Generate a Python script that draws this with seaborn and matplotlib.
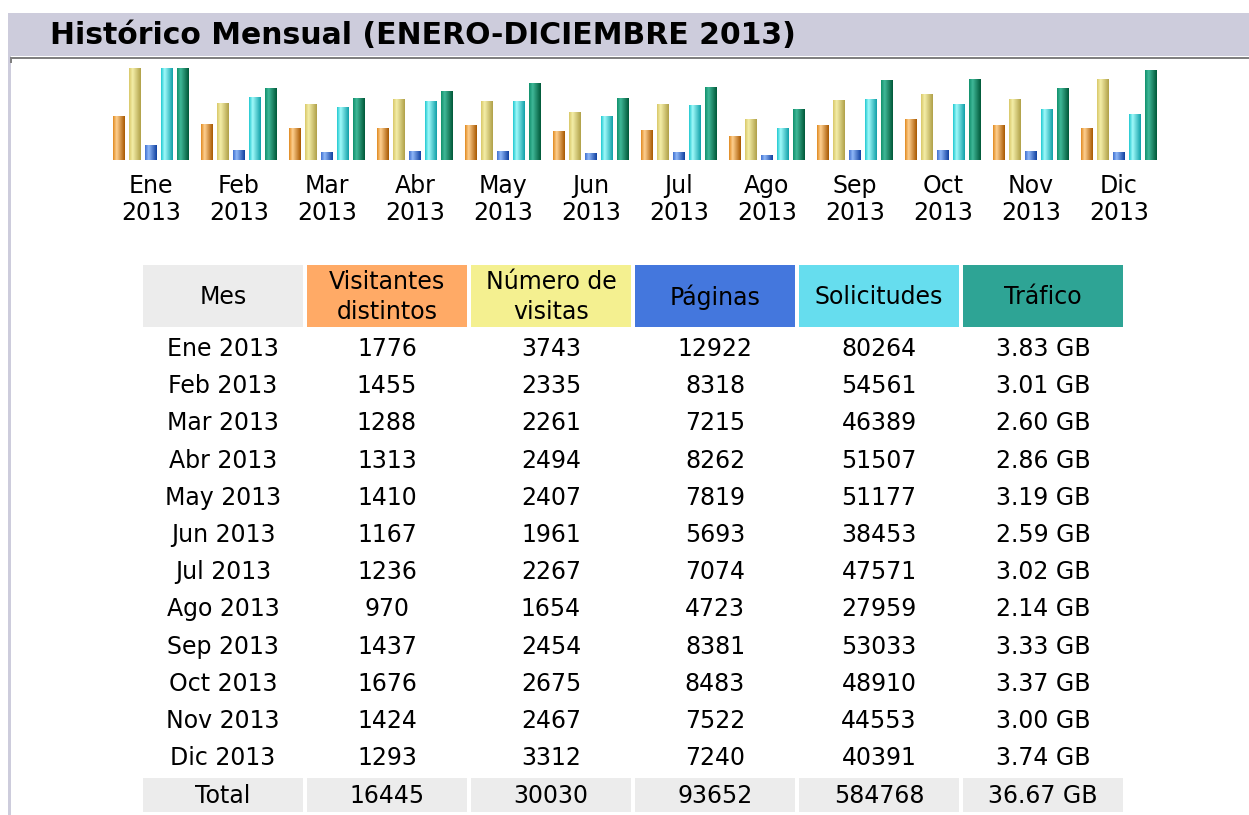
import numpy as np
import pandas as pd
import matplotlib
matplotlib.use("Agg")
import matplotlib.pyplot as plt
from matplotlib.colors import LinearSegmentedColormap
from matplotlib.patches import Rectangle
import seaborn as sns

# datos del historico mensual (awstats)
meses = ["Ene", "Feb", "Mar", "Abr", "May", "Jun", "Jul", "Ago", "Sep", "Oct", "Nov", "Dic"]
anio = "2013"
visitantes = [1776, 1455, 1288, 1313, 1410, 1167, 1236, 970, 1437, 1676, 1424, 1293]
visitas = [3743, 2335, 2261, 2494, 2407, 1961, 2267, 1654, 2454, 2675, 2467, 3312]
paginas = [12922, 8318, 7215, 8262, 7819, 5693, 7074, 4723, 8381, 8483, 7522, 7240]
solicitudes = [80264, 54561, 46389, 51507, 51177, 38453, 47571, 27959, 53033, 48910, 44553, 40391]
trafico_gb = [3.83, 3.01, 2.60, 2.86, 3.19, 2.59, 3.02, 2.14, 3.33, 3.37, 3.00, 3.74]
totales = ["16445", "30030", "93652", "584768", "36.67 GB"]

cabeceras = ["Mes", "Visitantes\ndistintos", "Número de\nvisitas", "Páginas", "Solicitudes", "Tráfico"]
col_cabecera = ["#ECECEC", "#FFAA66", "#F4F090", "#4477DD", "#66DDEE", "#2EA495"]
series = ["Visitantes", "Visitas", "Paginas", "Solicitudes", "Trafico"]

# colores de las barras: borde izq, brillo, borde der
grad = [("#E08A20", "#FFD090", "#A85800"),
        ("#D8C868", "#F4EEA8", "#B0A048"),
        ("#4070D0", "#90B8F8", "#1040A0"),
        ("#20C8D0", "#A0FAFA", "#10A0A8"),
        ("#10906C", "#40B898", "#005838")]

W, H = 1249, 815
sns.set_style("white")
plt.rcParams["font.family"] = ["DejaVu Sans"]
plt.rcParams["text.color"] = "black"
plt.rcParams["xtick.color"] = "black"
fig = plt.figure(figsize=(W / 100, H / 100), dpi=100)

# fondo en pixeles
bg = fig.add_axes([0, 0, 1, 1])
bg.set_xlim(0, W)
bg.set_ylim(H, 0)
bg.axis("off")
bg.add_patch(Rectangle((8, 13), W - 8, 43, color="#CDCCDC", lw=0))
bg.add_patch(Rectangle((8, 13), 3, H - 13, color="#CDCCDC", lw=0))
bg.add_patch(Rectangle((10, 57), W - 10, 2, color="#808080", lw=0))
bg.add_patch(Rectangle((10, 57), 2, 6, color="#808080", lw=0))
bg.text(50, 35, "Histórico Mensual (ENERO-DICIEMBRE 2013)", fontsize=21.5, fontweight="bold",
        va="center", ha="left", color="black")

# grafico de barras, escalado como awstats
max_v = max(visitas)
max_h = max(solicitudes)
max_t = max(trafico_gb)
alturas = {
    "Visitantes": [v / max_v for v in visitantes],
    "Visitas": [v / max_v for v in visitas],
    "Paginas": [v / max_h for v in paginas],
    "Solicitudes": [v / max_h for v in solicitudes],
    "Trafico": [v / max_t for v in trafico_gb],
}
df = pd.DataFrame([(m, s, alturas[s][i]) for s in series for i, m in enumerate(meses)],
                  columns=["mes", "serie", "altura"])

x0, x1 = 107, 1163
ytop, ybase = 68, 160
ax = fig.add_axes([x0 / W, 1 - ybase / H, (x1 - x0) / W, (ybase - ytop) / H])
sns.barplot(data=df, x="mes", y="altura", hue="serie", hue_order=series,
            palette=[g[0] for g in grad], width=0.909, gap=0.25, legend=False,
            linewidth=0, ax=ax)
ax.set_xlim(-0.5, 11.5)
ax.set_ylim(0, 1)
ax.set_xlabel("")
ax.set_ylabel("")
ax.set_yticks([])
ax.set_xticks(range(12))
ax.set_xticklabels([m + "\n" + anio for m in meses], fontsize=17, linespacing=1.15, color="black")
ax.tick_params(axis="x", length=0, pad=10)
sns.despine(ax=ax, left=True, bottom=True)
ax.patch.set_alpha(0)

# efecto cilindro
for k, cont in enumerate(ax.containers):
    cmap = LinearSegmentedColormap.from_list("g%d" % k, [(0, grad[k][0]), (0.3, grad[k][1]), (1, grad[k][2])])
    for bar in cont:
        bx, by = bar.get_x(), bar.get_y()
        bw, bh = bar.get_width(), bar.get_height()
        img = ax.imshow(np.linspace(0, 1, 64).reshape(1, -1), cmap=cmap, aspect="auto",
                        extent=[bx, bx + bw, by, by + bh], zorder=3, interpolation="bilinear")
        img.set_clip_path(bar)
ax.set_xlim(-0.5, 11.5)
ax.set_ylim(0, 1)

# tabla
col_x = [143 + 164 * i for i in range(6)]
cw = 160
for i, (txt, c) in enumerate(zip(cabeceras, col_cabecera)):
    bg.add_patch(Rectangle((col_x[i], 265), cw, 62, color=c, lw=0))
    bg.text(col_x[i] + cw / 2, 297, txt, fontsize=17, ha="center", va="center",
            linespacing=1.3, color="black")

for r, m in enumerate(meses):
    y = 349 + 37.2 * r
    fila = [m + " " + anio, str(visitantes[r]), str(visitas[r]), str(paginas[r]),
            str(solicitudes[r]), "%.2f GB" % trafico_gb[r]]
    for i, txt in enumerate(fila):
        bg.text(col_x[i] + cw / 2, y, txt, fontsize=17, ha="center", va="center", color="black")

fila_total = ["Total"] + totales
for i, txt in enumerate(fila_total):
    bg.add_patch(Rectangle((col_x[i], 778), cw, 34, color="#ECECEC", lw=0))
    bg.text(col_x[i] + cw / 2, 796, txt, fontsize=17, ha="center", va="center", color="black")

fig.savefig("out.png", dpi=100)
